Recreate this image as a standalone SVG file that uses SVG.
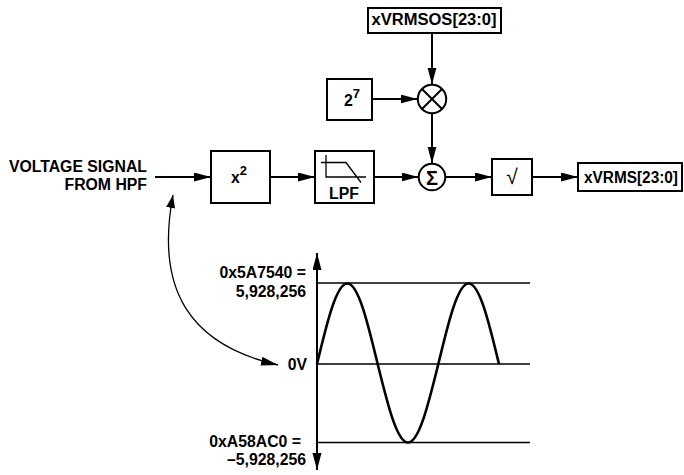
<svg xmlns="http://www.w3.org/2000/svg" width="684" height="475" viewBox="0 0 684 475">
<style>
text{font-family:"Liberation Sans",Arial,sans-serif;font-weight:bold;font-size:15.8px;fill:#000}
.box{fill:#fff;stroke:#000;stroke-width:2}
.ln{fill:none;stroke:#000;stroke-width:2}
.thin{fill:none;stroke:#000;stroke-width:1.3}
.mid{text-anchor:middle}
.end{text-anchor:end}
</style>
<defs>
<marker id="ah" markerUnits="userSpaceOnUse" markerWidth="18" markerHeight="10" refX="17" refY="4.5" orient="auto-start-reverse"><path d="M0,0 L17,4.5 L0,9 z" fill="#000"/></marker>
<marker id="ahs" markerUnits="userSpaceOnUse" markerWidth="14" markerHeight="10" refX="13" refY="4.5" orient="auto-start-reverse"><path d="M0,0 L13,4.5 L0,9 z" fill="#000"/></marker>
</defs>
<rect width="684" height="475" fill="#fff"/>
<g id="input-label">
<text class="end" x="147" y="172">VOLTAGE SIGNAL</text>
<text class="end" x="147" y="190">FROM HPF</text>
</g>
<g id="square">
<rect class="box" x="211" y="151" width="59" height="52"/>
<text x="231" y="183">x<tspan font-size="13" dy="-8">2</tspan></text>
</g>
<g id="lpf">
<rect class="box" x="315" y="151" width="59" height="52"/>
<path class="thin" stroke-width="1.5" d="M321,162.5 H346 L361,182.5 M326,155 V177 H366"/>
<text class="mid" x="344" y="198.5">LPF</text>
</g>
<g id="xvrmsos">
<rect class="box" x="368" y="8" width="133" height="25"/>
<text class="mid" x="434" y="25" textLength="125" lengthAdjust="spacingAndGlyphs">xVRMSOS[23:0]</text>
</g>
<g id="pow27">
<rect class="box" x="327" y="79" width="45" height="41"/>
<text x="344" y="106">2<tspan font-size="13" dy="-8">7</tspan></text>
</g>
<g id="mult">
<circle class="ln" cx="432" cy="99" r="14.2"/>
<path class="ln" d="M422,89 L442,109 M442,89 L422,109"/>
</g>
<g id="sum">
<circle class="ln" cx="432" cy="177" r="13.3"/>
<text class="mid" x="432" y="184.5" style="font-size:20px">Σ</text>
</g>
<g id="sqrt">
<rect class="box" x="492" y="159" width="40" height="36"/>
<text class="mid" x="512" y="184" style="font-size:21px;font-weight:normal">√</text>
</g>
<g id="xvrms">
<rect class="box" x="578" y="163" width="104" height="28"/>
<text class="mid" x="631" y="183" textLength="94" lengthAdjust="spacingAndGlyphs">xVRMS[23:0]</text>
</g>
<g id="connectors">
<line class="ln" x1="155" y1="177" x2="211" y2="177" marker-end="url(#ah)"/>
<line class="ln" x1="270" y1="177" x2="315" y2="177" marker-end="url(#ah)"/>
<line class="ln" x1="374" y1="177" x2="418.5" y2="177" marker-end="url(#ah)"/>
<line class="ln" x1="445.5" y1="177" x2="492" y2="177" marker-end="url(#ah)"/>
<line class="ln" x1="532" y1="177" x2="578" y2="177" marker-end="url(#ah)"/>
<line class="ln" x1="432" y1="33" x2="432" y2="84.5" marker-end="url(#ah)"/>
<line class="ln" x1="372" y1="99" x2="417.5" y2="99" marker-end="url(#ah)"/>
<line class="ln" x1="432" y1="113" x2="432" y2="163.5" marker-end="url(#ah)"/>
<path class="thin" stroke-width="1.4" d="M173,195 C155,290 190,345 278,365" marker-start="url(#ahs)" marker-end="url(#ah)"/>
</g>
<g id="graph">
<line class="thin" x1="317" y1="283" x2="530" y2="283"/>
<line class="thin" x1="317" y1="364" x2="530" y2="364"/>
<line class="thin" x1="317" y1="442.5" x2="530" y2="442.5"/>
<line class="ln" x1="317" y1="364" x2="317" y2="253" marker-end="url(#ah)"/>
<line class="ln" x1="317" y1="364" x2="317" y2="470" marker-end="url(#ah)"/>
<path fill="none" stroke="#000" stroke-width="2.6" d="M317,364 c9.89,-41.24 19.36,-80.5 30.33,-80.5 c10.97,0 20.44,39.26 30.33,80.5 c9.89,40.21 19.36,78.5 30.33,78.5 c10.97,0 20.44,-38.29 30.33,-78.5 c9.89,-41.24 19.36,-80.5 30.33,-80.5 c10.97,0 20.44,39.26 30.33,80.5"/>
<text class="end" x="306" y="278">0x5A7540 =</text>
<text class="end" x="306" y="297">5,928,256</text>
<text class="end" x="307" y="370">0V</text>
<text class="end" x="301" y="447">0xA58AC0 =</text>
<text class="end" x="306" y="465">–5,928,256</text>
</g>
</svg>
